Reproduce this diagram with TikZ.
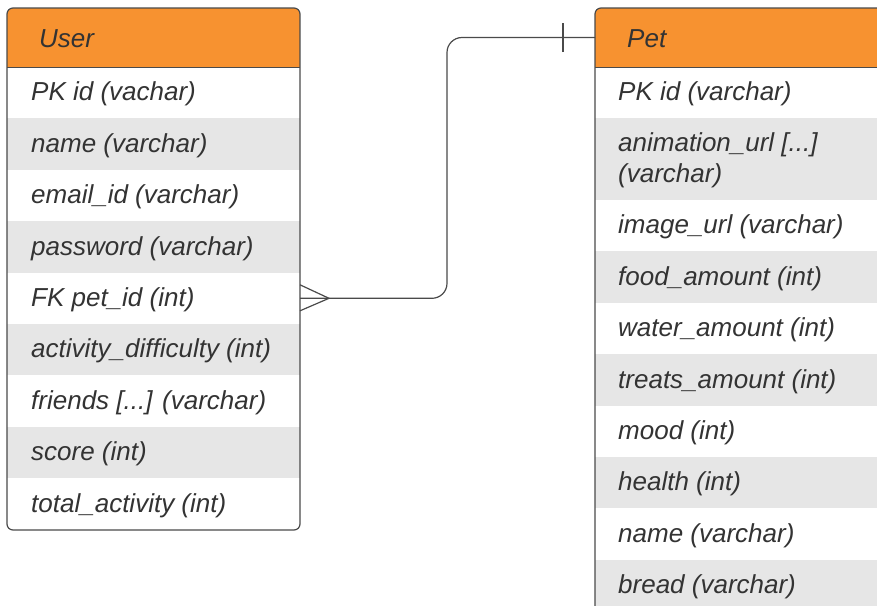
\documentclass[tikz,border=0pt]{standalone}
\usepackage{fontspec}
\setmainfont{Liberation Sans}
\definecolor{hdr}{HTML}{F79230}
\definecolor{stripe}{HTML}{E6E6E6}
\definecolor{edge}{HTML}{4A4A4A}
\definecolor{ink}{HTML}{333333}
\newcommand\listdots{...}
\begin{document}
\begin{tikzpicture}[x=1pt,y=-1pt,
  rowbox/.style={anchor=north west, inner sep=0pt, outer sep=0pt, draw=none},
  celltext/.style={anchor=west, inner sep=0pt, align=left, text=ink, yshift=-1.5pt,
    font=\fontsize{26}{31}\selectfont\itshape},
  frame/.style={draw=edge, line width=1.2pt, rounded corners=6pt},
  conn/.style={draw=edge, line width=1.2pt}]
\clip (0,0) rectangle (877,605);
\fill[white] (0,0) rectangle (877,605);

% ---- User entity ----
\begin{scope}
  \clip[rounded corners=6pt] (7,8) rectangle (300,530);
  \node[rowbox, fill=hdr, minimum width=293pt, minimum height=59pt] (uh) at (7,8) {};
  \node[celltext] (uht) at ([xshift=32pt]uh.west) {User};
  \foreach \t [count=\i] in {PK id (vachar), name (varchar), email\_id (varchar),
      password (varchar), FK pet\_id (int), activity\_difficulty (int),
      friends [\listdots] (varchar), score (int), total\_activity (int)} {
    \pgfmathsetmacro\yy{67+(\i-1)*51.4}
    \ifodd\i \def\fc{white}\else\def\fc{stripe}\fi
    \node[rowbox, fill=\fc, minimum width=293pt, minimum height=51.4pt] (u\i) at (7,\yy) {};
    \node[celltext] (ut\i) at ([xshift=24pt]u\i.west) {\t};
  }
\end{scope}
\draw[edge, line width=1pt] (uh.south west) -- (uh.south east);
\draw[frame] (7,8) rectangle (300,530);

% ---- Pet entity ----
\begin{scope}
  \clip[rounded corners=6pt] (595,8) rectangle (900,640);
  \node[rowbox, fill=hdr, minimum width=305pt, minimum height=59pt] (ph) at (595,8) {};
  \node[celltext] (pht) at ([xshift=32pt]ph.west) {Pet};
  \foreach \y/\h [count=\i] in {67/51.4, 118/82, 200/51.4, 251.4/51.4,
      302.8/51.4, 354.2/51.4, 405.6/51.4, 457/51.4, 508.4/51.4, 559.8/80} {
    \ifodd\i \def\fc{white}\else\def\fc{stripe}\fi
    \node[rowbox, fill=\fc, minimum width=305pt, minimum height=\h pt] (p\i) at (595,\y) {};
  }
  \node[celltext] (pt1) at (618,92.3) {PK id (varchar)};
  \node[celltext] (pt2) at (618,159) {animation\_url [\listdots]\\(varchar)};
  \foreach \y/\t [count=\i from 3] in {225.7/image\_url (varchar), 277.1/food\_amount (int),
      328.5/water\_amount (int), 379.9/treats\_amount (int), 431.3/mood (int),
      482.7/health (int), 534.1/name (varchar), 585.5/bread (varchar)} {
    \node[celltext] (pt\i) at (618,\y) {\t};
  }
\end{scope}
\draw[edge, line width=1pt] (ph.south west) -- (ph.south east);
\draw[frame] (595,640) -- (595,8) -- (900,8) -- (900,640);

% ---- Relationship: many users to one pet ----
\draw[conn, rounded corners=15pt] (u5.east) -- ++(147,0) |- (ph.west);
\draw[conn] ([yshift=-12.5pt]u5.east) -- ([xshift=29pt]u5.east) -- ([yshift=13.5pt]u5.east);
\draw[conn] ([xshift=-32pt,yshift=-14.5pt]ph.west) -- ([xshift=-32pt,yshift=14.5pt]ph.west);
\end{tikzpicture}
\end{document}
